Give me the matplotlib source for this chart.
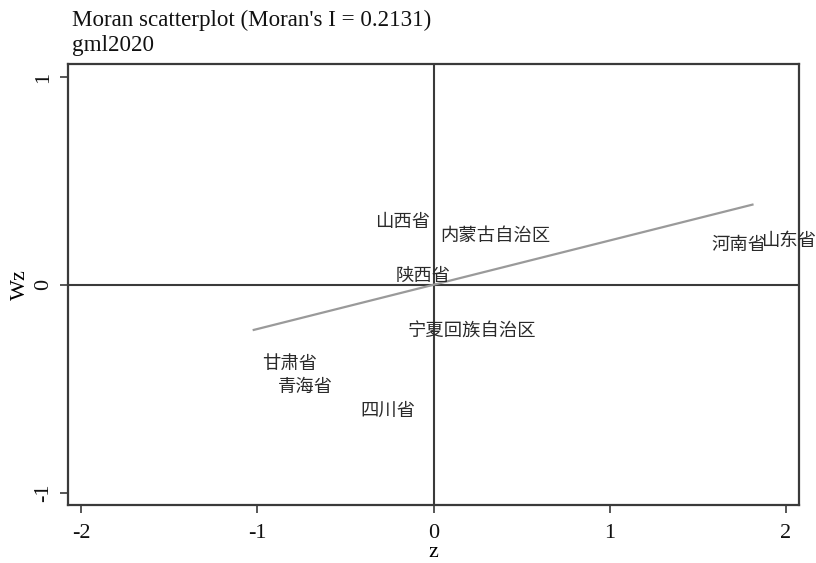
import numpy as np
import matplotlib
matplotlib.use("Agg")
import matplotlib.pyplot as plt

# Data
regions = ["山西省", "内蒙古自治区", "陕西省", "宁夏回族自治区", "甘肃省",
           "青海省", "四川省", "河南省", "山东省"]
z = [-0.38, -0.01, -0.26, -0.19, -1.02, -0.93, -0.46, 1.53, 1.81]
wz = [0.30, 0.236, 0.043, -0.226, -0.38, -0.49, -0.606, 0.19, 0.21]
moran_i = 0.2131
xticks = [-2, -1, 0, 1, 2]
yticks = [-1, 0, 1]

serif = ["Liberation Serif", "Noto Sans CJK SC"]
plt.rcParams["font.family"] = serif

fig = plt.figure(figsize=(8.16, 5.63), dpi=100)
ax = fig.add_axes([68/816, 1-505/563, (799-68)/816, (505-64)/563])

frame_c = "#3a3a3a"
ax.axhline(0, color=frame_c, lw=1.5, zorder=1)
ax.axvline(0, color=frame_c, lw=1.5, zorder=1)

zarr = np.array(z)
xs = np.array([zarr.min(), zarr.max()])
ax.plot(xs, moran_i * xs, color="#9a9a9a", lw=1.6, zorder=2)

for name, xv, yv in zip(regions, z, wz):
    ax.annotate(name, (xv, yv), xytext=(5.8, 0), textcoords="offset points",
                ha="left", va="center", fontsize=13.2,
                family=["Noto Sans CJK SC"], color="#2a2a2a", zorder=3)

ax.set_xlim(-2.074, 2.074)
ax.set_ylim(-1.06, 1.0625)
ax.set_xticks(xticks)
ax.set_yticks(yticks)
ax.set_xticklabels([str(t) for t in xticks])
ax.set_yticklabels([str(t) for t in yticks], rotation=90, va="center")
ax.tick_params(direction="out", length=6, width=1.2, color=frame_c,
               labelsize=16, labelcolor="#111111", pad=5)
ax.tick_params(axis="x", pad=8)
for s in ax.spines.values():
    s.set_color(frame_c)
    s.set_linewidth(1.6)

ax.set_xlabel("z", fontsize=16, labelpad=0)
ax.set_ylabel("Wz", fontsize=16, labelpad=3)

fig.text(72/816, 1-20/563, "Moran scatterplot (Moran's I = 0.2131)",
         fontsize=16.6, ha="left", va="center", color="#111111")
fig.text(72/816, 1-45/563, "gml2020",
         fontsize=16.6, ha="left", va="center", color="#111111")

fig.savefig("out.png", dpi=100)
